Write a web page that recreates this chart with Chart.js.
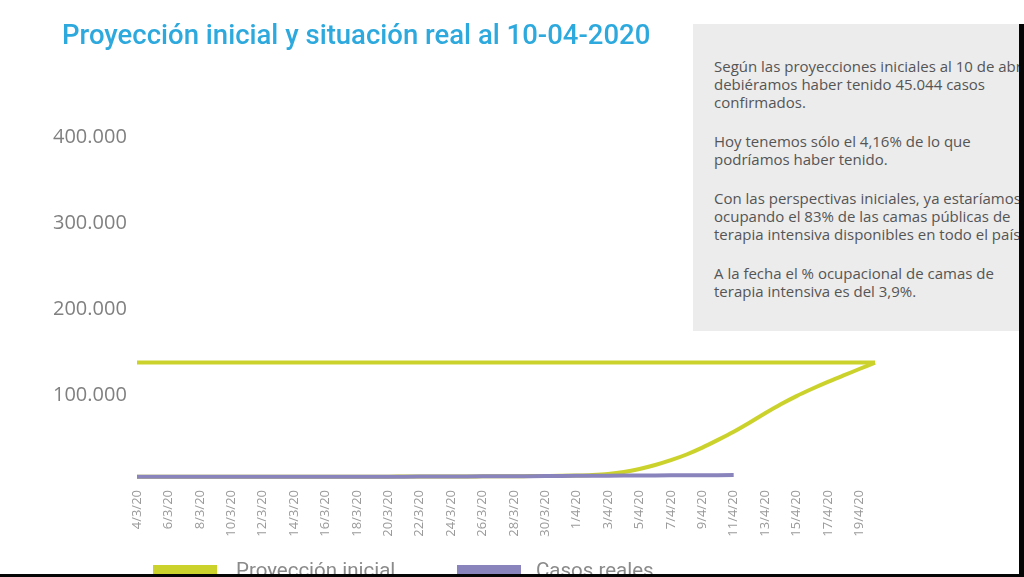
<!DOCTYPE html>
<html>
<head>
<meta charset="utf-8">
<script src="https://cdn.jsdelivr.net/npm/chart.js@4.4.1/dist/chart.umd.min.js"></script>
<style>
  html, body { margin: 0; padding: 0; background: #fff; }
  #wrap { position: relative; width: 1024px; height: 577px; overflow: hidden; background: #fff; }
  #chart { position: absolute; left: 0; top: 0; }
  #title { position: absolute; left: 62px; top: 20px; font-family: Roboto, sans-serif; font-weight: 500;
           font-size: 27.5px; line-height: 30px; color: #2ea9de; white-space: nowrap; }
  #box { position: absolute; left: 693px; top: 24px; width: 360px; height: 307px; background: #ececec; }
  #box .txt { position: absolute; left: 21px; top: 33px; font-family: "Open Sans", sans-serif; font-size: 15px;
              line-height: 18px; color: #555; white-space: nowrap; }
  #box p { margin: 0 0 21px 0; }
  .leg { position: absolute; top: 565px; width: 64px; height: 20px; }
  .legt { position: absolute; top: 556px; font-family: Roboto, sans-serif; font-size: 20.5px; line-height: 28px;
          color: #8a8a8a; white-space: nowrap; }
  #edgeR { position: absolute; left: 1019px; top: 24px; width: 5px; height: 553px; background: #050505; }
  #edgeB { position: absolute; left: 0; top: 574px; width: 1024px; height: 3px; background: #050505; }
</style>
</head>
<body>
<div id="wrap">
  <canvas id="chart" width="1019" height="574"></canvas>
  <div id="title">Proyección inicial y situación real al 10-04-2020</div>
  <div id="box">
    <div class="txt">
      <p>Según las proyecciones iniciales al 10 de abril<br>debiéramos haber tenido 45.044 casos<br>confirmados.</p>
      <p>Hoy tenemos sólo el 4,16% de lo que<br>podríamos haber tenido.</p>
      <p>Con las perspectivas iniciales, ya estaríamos<br>ocupando el 83% de las camas públicas de<br>terapia intensiva disponibles en todo el país.</p>
      <p>A la fecha el % ocupacional de camas de<br>terapia intensiva es del 3,9%.</p>
    </div>
  </div>
  <div class="leg" id="leg1" style="left:153px;"></div>
  <div class="legt" id="legt1" style="left:236px;"></div>
  <div class="leg" id="leg2" style="left:457px;"></div>
  <div class="legt" id="legt2" style="left:536px;"></div>
  <div id="edgeR"></div>
  <div id="edgeB"></div>
</div>
<script>
// ---- Data ----
const dates = [
  '4/3/20','5/3/20','6/3/20','7/3/20','8/3/20','9/3/20','10/3/20','11/3/20','12/3/20','13/3/20',
  '14/3/20','15/3/20','16/3/20','17/3/20','18/3/20','19/3/20','20/3/20','21/3/20','22/3/20','23/3/20',
  '24/3/20','25/3/20','26/3/20','27/3/20','28/3/20','29/3/20','30/3/20','31/3/20',
  '1/4/20','2/4/20','3/4/20','4/4/20','5/4/20','6/4/20','7/4/20','8/4/20','9/4/20','10/4/20',
  '11/4/20','12/4/20','13/4/20','14/4/20','15/4/20','16/4/20','17/4/20','18/4/20','19/4/20','20/4/20'
];
const projection = [
  0, 0, 0, 10, 20, 30, 40, 50, 60, 80,
  100, 120, 140, 160, 190, 220, 250, 290, 330, 380,
  440, 500, 580, 660, 760, 880, 1020, 1200,
  1500, 2100, 3300, 5600, 9200, 13800, 19400, 26000, 34000, 43000,
  52500, 63000, 74000, 84500, 94000, 102500, 110500, 118000, 125500, 133000
];
const projectionTopValue = 133000;
const realCases = [
  1, 2, 8, 9, 12, 17, 19, 21, 31, 34,
  45, 56, 65, 79, 97, 128, 158, 225, 266, 301,
  387, 502, 589, 690, 745, 820, 966, 1054,
  1133, 1265, 1353, 1451, 1554, 1628, 1715, 1795, 1894, 1975,
  2142
];
const yTickValues = [100000, 200000, 300000, 400000];
const seriesNames = ['Proyección inicial', 'Casos reales'];
const seriesColors = ['#ccd22c', '#8a84bd'];

// legend (HTML)
document.getElementById('leg1').style.background = seriesColors[0];
document.getElementById('leg2').style.background = seriesColors[1];
document.getElementById('legt1').textContent = seriesNames[0];
document.getElementById('legt2').textContent = seriesNames[1];

const topLine = [
  { x: dates[0], y: projectionTopValue },
  { x: dates[dates.length - 1], y: projectionTopValue }
];

const fmt = v => v.toLocaleString('de-DE');

new Chart(document.getElementById('chart'), {
  type: 'line',
  data: {
    labels: dates,
    datasets: [
      {
        label: seriesNames[1],
        data: realCases,
        borderColor: seriesColors[1],
        borderWidth: 4,
        pointRadius: 0,
        tension: 0
      },
      {
        label: seriesNames[0],
        data: projection,
        borderColor: seriesColors[0],
        borderWidth: 4,
        pointRadius: 0,
        cubicInterpolationMode: 'monotone'
      },
      {
        label: seriesNames[0] + ' (tope)',
        data: topLine,
        borderColor: seriesColors[0],
        borderWidth: 4,
        pointRadius: 0
      }
    ]
  },
  options: {
    responsive: false,
    animation: false,
    devicePixelRatio: 1,
    layout: { padding: { left: 53, right: 144, top: 116, bottom: 0 } },
    plugins: { legend: { display: false }, tooltip: { enabled: false }, title: { display: false } },
    scales: {
      x: {
        offset: false,
        grid: { display: false, drawTicks: false },
        border: { display: false },
        afterFit: axis => { axis.height = 92; },
        ticks: {
          autoSkip: false,
          maxRotation: 90,
          minRotation: 90,
          padding: 8,
          color: '#9a9a9a',
          font: { family: 'Open Sans', size: 13 },
          callback: function (value, index) { return index % 2 === 0 ? this.getLabelForValue(value) : null; }
        }
      },
      y: {
        min: -6000,
        max: 420000,
        grid: { display: false, drawTicks: false },
        border: { display: false },
        afterBuildTicks: axis => { axis.ticks = yTickValues.map(v => ({ value: v })); },
        afterFit: axis => { axis.width = 84; },
        ticks: {
          crossAlign: 'far',
          padding: 10,
          labelOffset: 4,
          color: '#808080',
          font: { family: 'Open Sans', size: 20 },
          callback: v => fmt(v)
        }
      }
    }
  }
});
</script>
</body>
</html>
